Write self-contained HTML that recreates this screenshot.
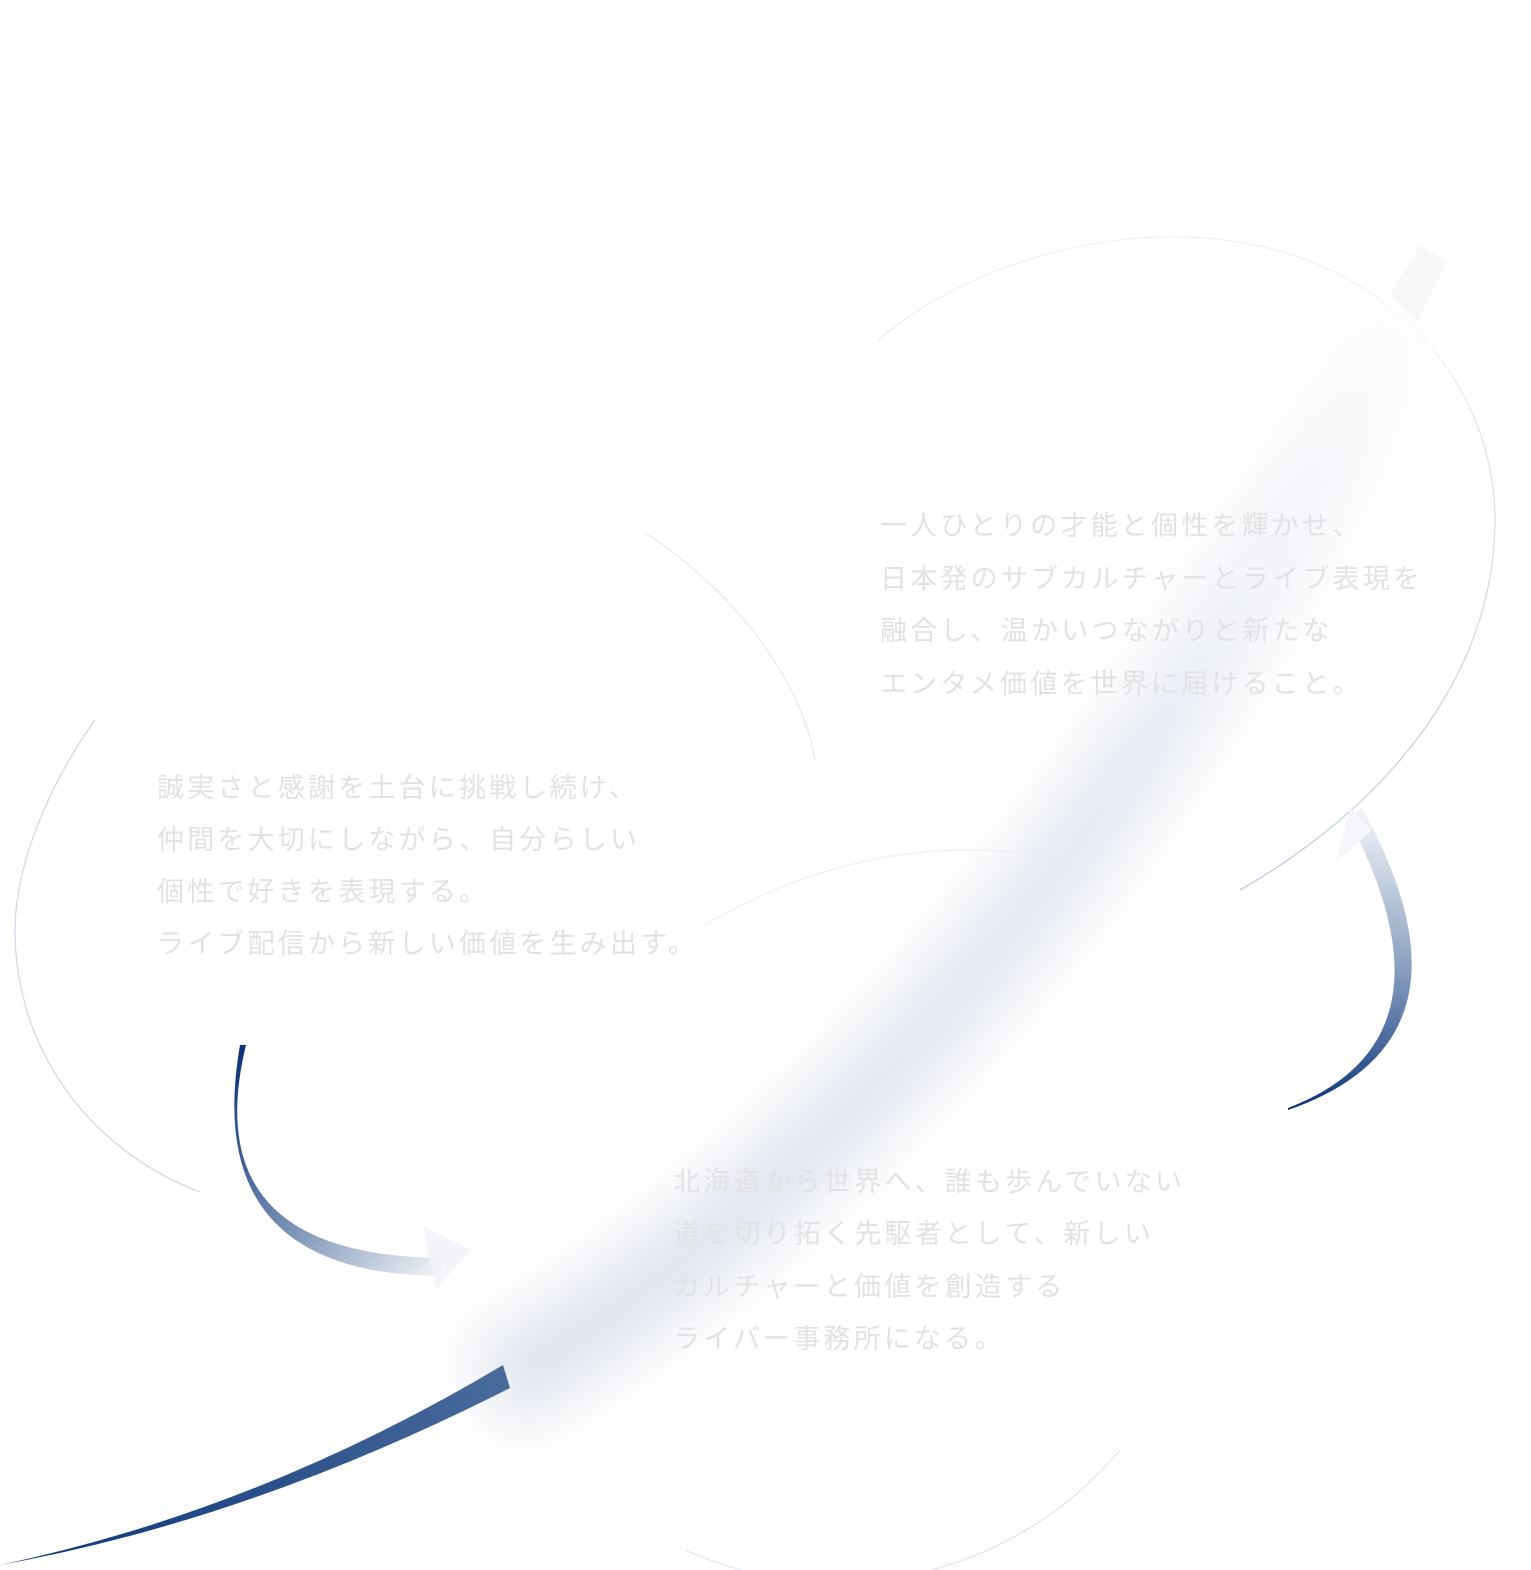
<!DOCTYPE html>
<html><head><meta charset="utf-8"><style>
html,body{margin:0;padding:0;background:#fff;}
svg{display:block}
text{font-family:"Liberation Sans","Noto Sans CJK JP",sans-serif;font-size:27px;fill:#e2e2e4;letter-spacing:3.2px}
</style></head><body>
<svg width="1531" height="1570" viewBox="0 0 1531 1570" xmlns="http://www.w3.org/2000/svg">
<defs>
<filter id="blur" x="-50%" y="-50%" width="200%" height="200%"><feGaussianBlur stdDeviation="28"/></filter>
<linearGradient id="band" x1="480" y1="1400" x2="1430" y2="260" gradientUnits="userSpaceOnUse">
<stop offset="0" stop-color="#dfe4ee"/><stop offset="0.6" stop-color="#e6eaf2"/><stop offset="1" stop-color="#ffffff"/></linearGradient>
<linearGradient id="main" x1="0" y1="1565" x2="510" y2="1375" gradientUnits="userSpaceOnUse">
<stop offset="0" stop-color="#0a3478"/><stop offset="1" stop-color="#4a6c9c"/></linearGradient>
<linearGradient id="la" x1="240" y1="1050" x2="470" y2="1265" gradientUnits="userSpaceOnUse">
<stop offset="0" stop-color="#0a3478"/><stop offset="0.5" stop-color="#7890b5"/><stop offset="1" stop-color="#ffffff"/></linearGradient>
<linearGradient id="ra" x1="1290" y1="1105" x2="1345" y2="790" gradientUnits="userSpaceOnUse">
<stop offset="0" stop-color="#0a3478"/><stop offset="0.5" stop-color="#8da2c2"/><stop offset="1" stop-color="#ffffff"/></linearGradient>
<linearGradient id="c1" x1="0" y1="0" x2="0" y2="1" ><stop offset="0" stop-color="#f0f0f3"/><stop offset="1" stop-color="#b8c6de"/></linearGradient>
</defs>

<!-- circles -->
<path d="M878,340 C960,270 1080,235 1180,237 C1380,240 1495,380 1495,520 C1495,680 1380,810 1240,890" fill="none" stroke="url(#c1)" stroke-width="1.2"/>
<path d="M645,533 C720,580 800,670 815,760" fill="none" stroke="#e6e8ef" stroke-width="1.2"/>
<path d="M95,720 C45,790 15,870 15,930 C15,1050 90,1150 200,1192" fill="none" stroke="#cfd6e6" stroke-width="1.2"/>
<path d="M705,925 C790,875 880,850 965,850 C1000,850 1035,853 1065,860" fill="none" stroke="#eeeff2" stroke-width="1.2"/>
<path d="M685,1550 A370,370 0 0 0 1120,1450" fill="none" stroke="#dfe3ec" stroke-width="1.2"/>

<!-- blurred band -->
<path d="M490,1390 Q1000,1100 1410,300" fill="none" stroke="url(#band)" stroke-width="90" filter="url(#blur)"/>
<polygon points="1390,295 1420,245 1447,262 1418,322" fill="#f7f8fa"/>

<!-- main arrow tail -->
<path d="M0,1565 Q260,1510 503,1365 L510,1388 Q250,1520 0,1565 Z" fill="url(#main)"/>

<!-- left curved arrow -->
<path d="M246,1045 Q195,1255 440,1258 L442,1276 Q200,1275 240,1045 Z" fill="url(#la)"/>
<polygon points="423,1226 470,1250 436,1290" fill="#f1f3f7" opacity="0.8"/>

<!-- right curved arrow -->
<path d="M1288,1108 Q1465,1040 1348,818 L1362,808 Q1490,1040 1288,1110 Z" fill="url(#ra)"/>
<polygon points="1336,862 1350,808 1372,830" fill="#f4f6f9"/>

<!-- texts -->
<text x="880" y="535">一人ひとりの才能と個性を輝かせ、</text>
<text x="880" y="588">日本発のサブカルチャーとライブ表現を</text>
<text x="880" y="640">融合し、温かいつながりと新たな</text>
<text x="880" y="693">エンタメ価値を世界に届けること。</text>

<text x="157" y="797">誠実さと感謝を土台に挑戦し続け、</text>
<text x="157" y="849">仲間を大切にしながら、自分らしい</text>
<text x="157" y="901">個性で好きを表現する。</text>
<text x="157" y="953">ライブ配信から新しい価値を生み出す。</text>

<text x="673" y="1191">北海道から世界へ、誰も歩んでいない</text>
<text x="673" y="1243">道を切り拓く先駆者として、新しい</text>
<text x="673" y="1296">カルチャーと価値を創造する</text>
<text x="673" y="1348">ライバー事務所になる。</text>
</svg>
</body></html>
